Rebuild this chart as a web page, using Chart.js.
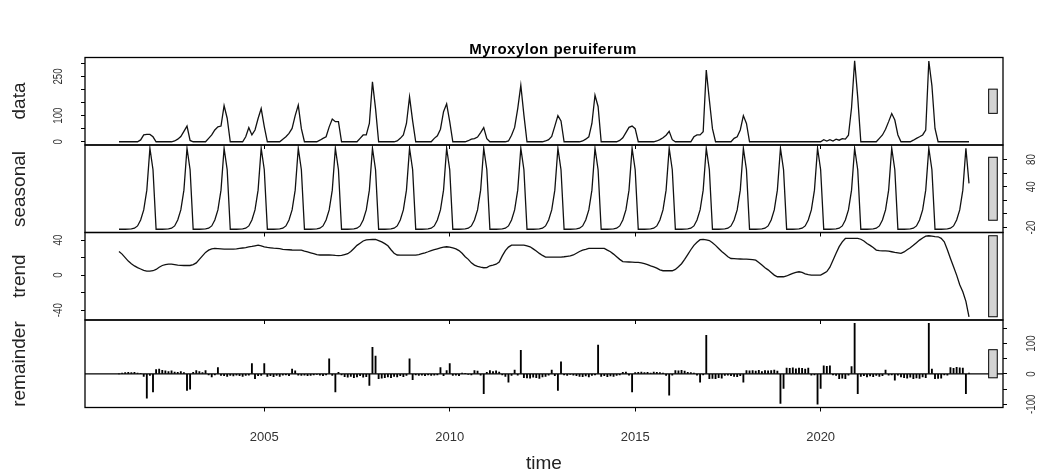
<!DOCTYPE html>
<html>
<head>
<meta charset="utf-8">
<script src="https://cdn.jsdelivr.net/npm/chart.js@4.4.0/dist/chart.umd.min.js"></script>
<style>
  body { margin: 0; background: #fff; }
  #wrap { position: relative; width: 1039px; height: 475px; overflow: hidden; }
  #wrap canvas { position: absolute; left: 0; top: 0; }
  .txt { position: absolute; font-family: 'Liberation Sans', Arial, sans-serif; color: #222; white-space: nowrap; transform: translate(-50%, -50%); }
  .side { transform: translate(-50%, -50%) rotate(-90deg); font-size: 19px; }
</style>
</head>
<body>
<div id="wrap">
  <canvas id="c0" width="1039" height="475"></canvas>
  <canvas id="c1" width="1039" height="475"></canvas>
  <canvas id="c2" width="1039" height="475"></canvas>
  <canvas id="c3" width="1039" height="475"></canvas>
  <div class="txt" style="left:553px; top:48px; font-size:15px; font-weight:bold; letter-spacing:0.5px; color:#000;">Myroxylon peruiferum</div>
  <div class="txt" style="left:544px; top:463px; font-size:19px;">time</div>
  <div class="txt side" style="left:19px; top:101px;">data</div>
  <div class="txt side" style="left:19px; top:189px;">seasonal</div>
  <div class="txt side" style="left:19px; top:276px;">trend</div>
  <div class="txt side" style="left:19px; top:364px;">remainder</div>
</div>
<script>
// monthly series, Feb 2001 .. Jan 2024 (12 values per row)
const firstMonth = 2001 + 1 / 12;
const monthCount = 276;
const yearTicks = [2005, 2010, 2015, 2020];

const dataValues = [
  0,0,0,0,0,0,0,7,26,28,28,19,
  0,0,0,0,0,0,3,10,20,40,60,5,
  0,0,0,0,0,13,26,45,57,60,138,90,
  0,0,0,0,0,19,54,26,45,89,127,58,
  0,0,0,0,0,10,19,32,51,100,140,50,
  0,0,0,0,0,6,13,19,57,87,77,77,
  0,0,0,0,0,0,13,26,26,70,229,127,
  0,0,0,0,0,0,3,13,26,70,172,80,
  0,0,0,0,0,0,13,23,48,115,145,77,
  0,0,0,0,0,4,10,12,18,35,54,12,
  0,0,0,0,0,0,3,25,55,127,216,102,
  0,0,0,0,0,0,3,8,20,60,100,80,
  0,0,0,0,0,0,3,10,19,70,178,135,
  0,0,0,0,0,0,5,15,35,55,60,50,
  0,0,0,0,0,0,3,8,15,25,40,8,
  0,0,0,0,0,0,19,26,26,38,274,160,
  50,0,0,0,0,0,0,13,19,45,100,70,
  0,0,0,0,0,0,0,0,0,0,0,0,
  0,0,0,0,0,0,0,0,0,0,0,0,
  8,3,8,3,10,6,12,10,25,130,310,170,
  0,0,0,0,0,0,13,26,48,77,108,83,
  26,0,0,0,0,6,13,19,26,45,309,215,
  51,0,0,0,0,0,0,0,0,0,0,0
];

const seasonalValues = [
  -22.5,-22.5,-22.5,-22.3,-21.8,-20.9,-17.6,-8.8,5.9,35,96.6,65,
  -22.5,-22.5,-22.5,-22.3,-21.8,-20.9,-17.6,-8.8,5.9,35,96.6,65,
  -22.5,-22.5,-22.5,-22.3,-21.8,-20.9,-17.6,-8.8,5.9,35,96.6,65,
  -22.5,-22.5,-22.5,-22.3,-21.8,-20.9,-17.6,-8.8,5.9,35,96.6,65,
  -22.5,-22.5,-22.5,-22.3,-21.8,-20.9,-17.6,-8.8,5.9,35,96.6,65,
  -22.5,-22.5,-22.5,-22.3,-21.8,-20.9,-17.6,-8.8,5.9,35,96.6,65,
  -22.5,-22.5,-22.5,-22.3,-21.8,-20.9,-17.6,-8.8,5.9,35,96.6,65,
  -22.5,-22.5,-22.5,-22.3,-21.8,-20.9,-17.6,-8.8,5.9,35,96.6,65,
  -22.5,-22.5,-22.5,-22.3,-21.8,-20.9,-17.6,-8.8,5.9,35,96.6,65,
  -22.5,-22.5,-22.5,-22.3,-21.8,-20.9,-17.6,-8.8,5.9,35,96.6,65,
  -22.5,-22.5,-22.5,-22.3,-21.8,-20.9,-17.6,-8.8,5.9,35,96.6,65,
  -22.5,-22.5,-22.5,-22.3,-21.8,-20.9,-17.6,-8.8,5.9,35,96.6,65,
  -22.5,-22.5,-22.5,-22.3,-21.8,-20.9,-17.6,-8.8,5.9,35,96.6,65,
  -22.5,-22.5,-22.5,-22.3,-21.8,-20.9,-17.6,-8.8,5.9,35,96.6,65,
  -22.5,-22.5,-22.5,-22.3,-21.8,-20.9,-17.6,-8.8,5.9,35,96.6,65,
  -22.5,-22.5,-22.5,-22.3,-21.8,-20.9,-17.6,-8.8,5.9,35,96.6,65,
  -22.5,-22.5,-22.5,-22.3,-21.8,-20.9,-17.6,-8.8,5.9,35,96.6,65,
  -22.5,-22.5,-22.5,-22.3,-21.8,-20.9,-17.6,-8.8,5.9,35,96.6,65,
  -22.5,-22.5,-22.5,-22.3,-21.8,-20.9,-17.6,-8.8,5.9,35,96.6,65,
  -22.5,-22.5,-22.5,-22.3,-21.8,-20.9,-17.6,-8.8,5.9,35,96.6,65,
  -22.5,-22.5,-22.5,-22.3,-21.8,-20.9,-17.6,-8.8,5.9,35,96.6,65,
  -22.5,-22.5,-22.5,-22.3,-21.8,-20.9,-17.6,-8.8,5.9,35,96.6,65,
  -22.5,-22.5,-22.5,-22.3,-21.8,-20.9,-17.6,-8.8,5.9,35,96.6,45
];

const trendValues = [
  27,24,20,16,13,10.5,8.5,7,5.5,4.6,4.5,5,
  6.5,9,11,12,12.5,12.5,12,11.5,11.2,11,11,11,
  12,14,18,22,26,28.5,30,30.5,30.3,30,29.7,29.7,
  29.7,29.7,30,30.5,31,31.5,32.3,32.8,33.5,34.2,33.5,32.3,
  31.6,31.2,30.8,30.5,30.2,29.5,29.2,29,28.7,28.6,28.6,28.6,
  27.5,26.5,25.5,24.5,23.5,23,23,23,23,22.9,22.5,22.2,
  22.5,23.5,24.5,27,30.5,34,36.5,39,40.3,40.6,40.8,40.7,
  39.5,38,36,33.5,29,25,23,22.9,22.9,22.9,22.9,22.9,
  22.9,23.5,24.5,25.5,26.7,28,29,30,31,32,32.4,32,
  31,30,28,25,21,18,14,11.4,10,9,8.4,8.5,
  10.7,11.5,12.5,15,22,28,32,34.3,34.3,34.3,34.3,34.3,
  33.5,32.4,30,27.5,24.8,22.5,20.6,20.6,20.6,20.6,20.6,20.6,
  21,21.5,22,23,25,27,28.6,29.5,30.5,30.5,30.5,30.5,
  30.5,30.5,28.5,26.7,24,21,18,15.5,15.2,15,14.8,14.6,
  14.5,14,13,12,10.5,9.5,8,6,5,5,5,5,
  6.5,9.5,13,18,23.5,29,34,37.5,40.5,40.8,40.3,39.5,
  37,34,30.5,27,24,21,19,18.8,18.5,18.4,18.3,18.2,
  18,17.6,17.1,14.5,11.5,8.5,6,3,0,-1.9,-1.9,-1.9,
  -1,0.5,1.9,3,3.8,3,1.5,0.5,0,0,0,0,
  2,4,9,17,25,32.5,38,41.9,41.9,41.9,41.9,41.9,
  41,39,36.2,34,31.5,28.6,28,27.8,27.6,27.4,26.7,26,
  25.5,24.8,26.5,29,31.2,34,37,40,42.5,44.5,45,44.5,
  44,43.8,42,38,29,19,9.5,0,-11,-19,-30,-47.6
];

const remainderValues = [
  0,3,4,5,4,5,3,2,-8,-80,-5,-59,
  14,16,12,10,8,10,6,5,8,4,-54,-50,
  5,11,8,4,11,-3,-10,-3,21,-5,-6,-8,
  -5,-7,-4,-6,-8,-5,-4,34,-16,-6,-5,34,
  -8,-6,-9,-5,-8,-4,-3,-6,16,10,-4,-5,
  -4,-6,-5,-3,-2,-4,-6,-3,50,-5,-59,5,
  -3,-9,-11,-8,-12,-10,-6,-11,-9,-38,88,59,
  -16,-14,-12,-10,-12,-8,-10,-6,-9,-5,50,-19,
  -3,-5,-4,-6,-3,-5,-4,-3,21,-6,11,34,
  -5,-4,-6,3,2,-2,-3,11,9,-4,-65,5,
  11,8,10,6,-3,-8,-27,-5,13,-4,78,-12,
  -13,-14,-11,-12,-15,-10,-8,-4,13,-6,-54,40,
  -3,-5,-2,-4,-6,-8,-9,-7,-10,-5,-3,95,
  -8,-6,-9,-7,-8,-5,-3,5,6,-4,-59,4,
  5,6,4,5,3,6,5,4,3,-5,-70,-4,
  11,10,12,9,5,4,3,-4,-27,-3,127,-16,
  -15,-16,-12,-14,-5,-4,-6,-8,-9,-6,-27,11,
  10,11,9,12,8,11,10,11,13,9,-97,-48,
  19,18,20,17,19,18,16,19,-4,-3,-100,-48,
  27,25,27,-3,-5,-16,-14,-16,-4,24,167,-65,
  -8,-6,-10,-7,-9,-5,-8,-6,13,-4,-3,-21,
  -4,-10,-12,-14,-11,-16,-13,-15,-10,-12,167,16,
  -16,-15,-14,-3,-4,21,18,22,20,19,-65,3
];

const dataTicks = [0, 50, 100, 150, 200, 250, 300];
const dataTickLabels = [0, 100, 250];
const seasonalTicks = [-20, 0, 20, 40, 60, 80];
const seasonalTickLabels = [-20, 40, 80];
const trendTicks = [-40, -20, 0, 20, 40];
const trendTickLabels = [-40, 0, 40];
const remainderTicks = [-100, -50, 0, 50, 100, 150];
const remainderTickLabels = [-100, 0, 100];

const time = Array.from({length: monthCount}, (_, i) => firstMonth + i / 12);

// R style axis range: data range plus 4%
function padRange(a) {
  const lo = Math.min(...a), hi = Math.max(...a), d = (hi - lo) * 0.04;
  return [lo - d, hi + d];
}
const [xMin, xMax] = padRange(time);

const W = 1039, H = 475, plotLeft = 85, plotRight = 1003;
const narrow = "'Liberation Sans Narrow', 'Liberation Sans', Arial, sans-serif";

const panels = [
  {canvas: 'c0', values: dataValues, ticks: dataTicks, labels: dataTickLabels, side: 'left', top: 57.5, bottom: 145},
  {canvas: 'c1', values: seasonalValues, ticks: seasonalTicks, labels: seasonalTickLabels, side: 'right', top: 145, bottom: 232.5},
  {canvas: 'c2', values: trendValues, ticks: trendTicks, labels: trendTickLabels, side: 'left', top: 232.5, bottom: 320},
  {canvas: 'c3', values: remainderValues, ticks: remainderTicks, labels: remainderTickLabels, side: 'right', top: 320, bottom: 407.5, bars: true}
];

// range bars all share the height of the smallest panel range
const barSpan = Math.min(...panels.map(p => Math.max(...p.values) - Math.min(...p.values)));

const panelDecor = {
  id: 'panelDecor',
  afterDatasetsDraw(chart, args, o) {
    const {ctx, chartArea: a} = chart;
    const xs = chart.scales.x, ys = chart.scales.y;
    ctx.save();
    ctx.strokeStyle = '#000';
    if (o.zeroLine) {
      ctx.lineWidth = 1.2;
      const y0 = ys.getPixelForValue(0);
      ctx.beginPath(); ctx.moveTo(a.left, y0); ctx.lineTo(a.right, y0); ctx.stroke();
    }
    ctx.lineWidth = 1.3;
    ctx.strokeRect(a.left, a.top, a.right - a.left, a.bottom - a.top);

    // grey range bar
    const dx = (xMax - xMin) / 64;
    const bx0 = xs.getPixelForValue(xMax - dx), bx1 = xs.getPixelForValue(xMax - 0.4 * dx);
    const by0 = ys.getPixelForValue(o.mid + barSpan / 2), by1 = ys.getPixelForValue(o.mid - barSpan / 2);
    ctx.fillStyle = '#d3d3d3';
    ctx.fillRect(bx0, by0, bx1 - bx0, by1 - by0);
    ctx.lineWidth = 1;
    ctx.strokeRect(bx0, by0, bx1 - bx0, by1 - by0);

    // rotated tick labels
    ctx.font = '13px ' + narrow;
    ctx.fillStyle = '#333';
    ctx.textAlign = 'center';
    ctx.textBaseline = 'middle';
    const lx = o.side === 'left' ? 58 : 1031;
    o.labels.forEach(v => {
      ctx.save();
      ctx.translate(lx, ys.getPixelForValue(v));
      ctx.rotate(-Math.PI / 2);
      ctx.scale(0.75, 1);
      ctx.fillText(String(v), 0, 0);
      ctx.restore();
    });
    ctx.restore();
  }
};

panels.forEach((p, idx) => {
  const last = idx === panels.length - 1;
  const xAxisH = last ? 40 : 4;
  const [yMin, yMax] = padRange(p.values);
  const mid = (Math.max(...p.values) + Math.min(...p.values)) / 2;
  const pts = time.map((t, i) => ({x: t, y: p.values[i]}));
  const ds = p.bars
    ? {data: pts, backgroundColor: '#000', borderWidth: 0, barThickness: 1.2}
    : {data: pts, borderColor: '#111', borderWidth: 1.3, pointRadius: 0, tension: 0, fill: false};

  new Chart(document.getElementById(p.canvas), {
    type: p.bars ? 'bar' : 'line',
    data: {datasets: [ds]},
    options: {
      responsive: false,
      animation: false,
      events: [],
      layout: {
        padding: {
          top: p.top,
          bottom: H - p.bottom - xAxisH,
          left: p.side === 'right' ? plotLeft : 0,
          right: p.side === 'left' ? W - plotRight : 0
        }
      },
      plugins: {
        legend: {display: false},
        tooltip: {enabled: false},
        panelDecor: {side: p.side, labels: p.labels, mid: mid, zeroLine: !!p.bars}
      },
      scales: {
        x: {
          type: 'linear',
          min: xMin,
          max: xMax,
          offset: false,
          afterBuildTicks: s => { s.ticks = yearTicks.map(v => ({value: v})); },
          afterFit: s => { s.height = xAxisH; },
          grid: {display: true, drawOnChartArea: false, drawTicks: true, tickLength: 4, color: '#000', offset: false},
          border: {display: false},
          ticks: {
            display: last,
            padding: 18,
            color: '#333',
            maxRotation: 0,
            font: {family: narrow, size: 13},
            callback: v => String(v)
          }
        },
        y: {
          position: p.side,
          min: yMin,
          max: yMax,
          afterBuildTicks: s => { s.ticks = p.ticks.map(v => ({value: v})); },
          afterFit: s => { s.width = p.side === 'left' ? plotLeft : W - plotRight; },
          grid: {display: true, drawOnChartArea: false, drawTicks: true, tickLength: 4, color: '#000'},
          border: {display: false},
          ticks: {display: false}
        }
      }
    },
    plugins: [panelDecor]
  });
});
</script>
</body>
</html>
